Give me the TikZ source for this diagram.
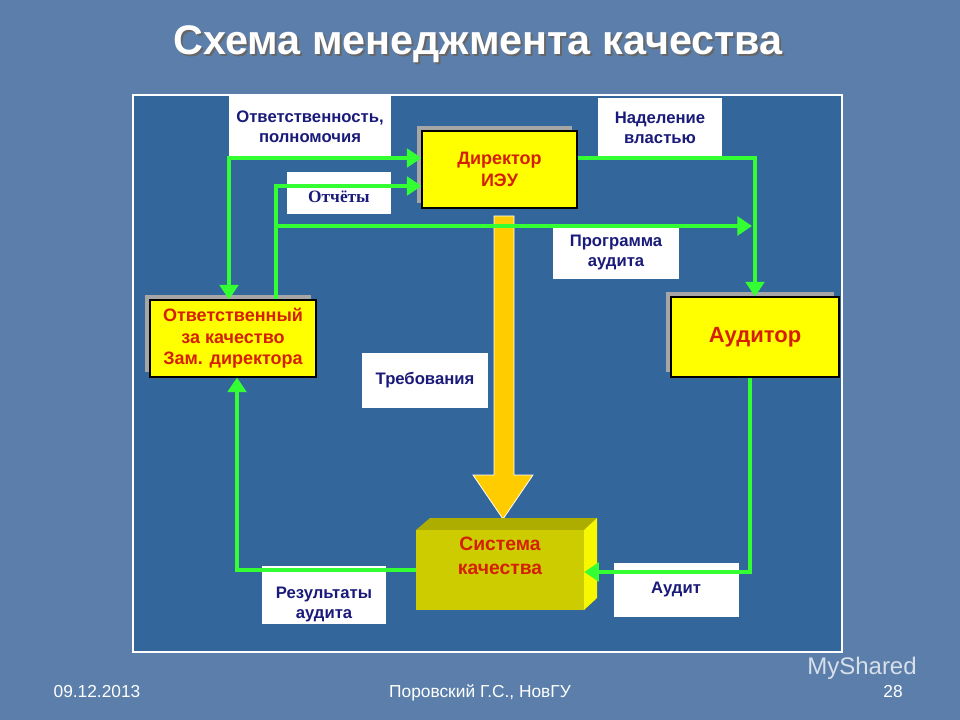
\documentclass[tikz,border=0pt]{standalone}
\usepackage{fontspec}
\setmainfont{Liberation Sans}
\newfontfamily\serifru{Liberation Serif}
\usetikzlibrary{arrows.meta,shadows}
\definecolor{bgc}{HTML}{5B7FAA}
\definecolor{panel}{HTML}{33669A}
\definecolor{grn}{HTML}{33FF33}
\definecolor{navy}{HTML}{1A1A7A}
\definecolor{redt}{HTML}{D42000}
\definecolor{ylw}{HTML}{FFFF00}
\definecolor{olive}{HTML}{CCCC00}
\definecolor{orng}{HTML}{FFCC00}
\tikzset{
  wbox/.style={fill=white,draw=none,text=navy,font=\bfseries\fontsize{12.5}{15}\selectfont,align=center,inner sep=0pt},
  ybox/.style={fill=ylw,draw=black,line width=0.8pt,text=redt,font=\bfseries\fontsize{13.5}{16}\selectfont,align=center,inner sep=0pt,
     drop shadow={fill=gray!70,shadow xshift=-4pt,shadow yshift=4pt,opacity=1}},
  conn/.style={grn,line width=3pt,-{Triangle[length=11pt,width=14pt]}},
  plain/.style={grn,line width=3pt},
  foot/.style={text=white,font=\fontsize{13}{15}\selectfont,anchor=base}
}
\begin{document}
\begin{tikzpicture}[x=0.75pt,y=-0.75pt]
\fill[bgc] (0,0) rectangle (960,720);
\useasboundingbox (0,0) rectangle (960,720);
\node[text=black!60,font=\bfseries\fontsize{31}{36}\selectfont] at (480,46) {Схема менеджмента качества};
\node (title) [text=white,font=\bfseries\fontsize{31}{36}\selectfont] at (478,44) {Схема менеджмента качества};
\draw[white,line width=1.5pt,fill=panel] (133,95) rectangle (842,652);
% white label boxes
\node (otv) [wbox,minimum width=162*0.75pt,minimum height=62*0.75pt] at (310,127) {Ответственность,\\полномочия};
\node (otch) [wbox,minimum width=104*0.75pt,minimum height=42*0.75pt,font=\serifru\bfseries\fontsize{13}{15}\selectfont] at (339,193) {\raisebox{-7pt}[0pt][0pt]{Отчёты}};
\node (nad) [wbox,minimum width=124*0.75pt,minimum height=59*0.75pt] at (660,128) {Наделение\\властью};
\node (prog) [wbox,minimum width=126*0.75pt,minimum height=54*0.75pt] at (616,252) {Программа\\аудита};
\node (treb) [wbox,minimum width=126*0.75pt,minimum height=55*0.75pt] at (425,380) {Требования};
\node (res) [wbox,minimum width=124*0.75pt,minimum height=58*0.75pt,anchor=north] at (324,566) {\rule{0pt}{22pt}Результаты\\аудита};
\node (aud) [wbox,minimum width=125*0.75pt,minimum height=54*0.75pt] at (676,590) {\raisebox{3pt}{Аудит}};
% yellow boxes
\node (dir) [ybox,minimum width=155*0.75pt,minimum height=77*0.75pt] at (499.5,169.5) {Директор\\ИЭУ};
\node (zam) [ybox,minimum width=166*0.75pt,minimum height=77*0.75pt] at (233,338.5) {Ответственный\\за качество\\Зам. директора};
\node (auditor) [ybox,minimum width=168*0.75pt,minimum height=80*0.75pt,font=\bfseries\fontsize{16.5}{19}\selectfont] at (755,337) {Аудитор};
% big arrow
\fill[orng,draw=white,line width=0.6pt] (494,216) -- (514,216) -- (514,475) -- (533,475) -- (503,519) -- (473,475) -- (494,475) -- cycle;
% 3D box
\fill[olive!85!black] (416,530) -- (430,518) -- (597,518) -- (584,530) -- cycle;
\fill[ylw!85!olive] (584,530) -- (597,518) -- (597,598) -- (584,610) -- cycle;
\node (sys) [fill=olive,minimum width=168*0.75pt,minimum height=80*0.75pt,inner sep=0pt,text=redt,font=\bfseries\fontsize{14.5}{18}\selectfont,align=center,text depth=22pt] at (500,570) {Система\\качества};
% connectors
\coordinate (a1) at (229,158);
\draw[plain,{Triangle[length=11pt,width=14pt]}-{Triangle[length=11pt,width=14pt]}] (zam.north -| 229,0) -- (a1) -- (a1 -| dir.west);
\coordinate (a2) at (276,186);
\draw[conn] (zam.north -| 276,0) -- (a2) -- (a2 -| dir.west);
\coordinate (a3) at (276,226);
\coordinate (a4) at (752,226);
\draw[conn] (a3) -- (a4);
\coordinate (a5) at (755,158);
\draw[conn] (dir.east |- a5) -- (a5) -- (auditor.north -| a5);
\coordinate (a6) at (750,572);
\draw[conn] (auditor.south -| a6) -- (a6) -- (sys.east |- a6);
\coordinate (a7) at (237,570);
\draw[conn] (sys.west |- a7) -- (a7) -- (zam.south -| a7);
% footer
\node (date) [foot] at (97,697) {09.12.2013};
\node (auth) [foot] at (480,697) {Поровский Г.С., НовГУ};
\node (pg) [foot] at (893,697) {28};
\node (wm) [text=white!75!bgc,font=\fontsize{18}{22}\selectfont] at (862,668) {MyShared};
\end{tikzpicture}
\end{document}
